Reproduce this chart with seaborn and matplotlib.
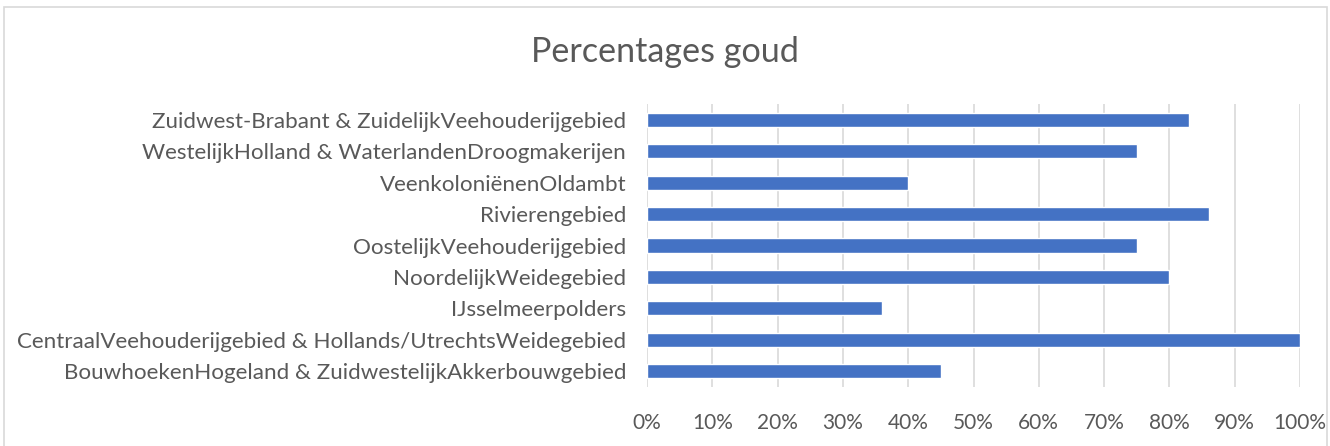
import matplotlib
matplotlib.use("Agg")
import matplotlib.pyplot as plt
import seaborn as sns
import pandas as pd
from matplotlib.patches import Rectangle
from matplotlib.ticker import FuncFormatter

categories = [
    "Zuidwest-Brabant & ZuidelijkVeehouderijgebied",
    "WestelijkHolland & WaterlandenDroogmakerijen",
    "VeenkoloniënenOldambt",
    "Rivierengebied",
    "OostelijkVeehouderijgebied",
    "NoordelijkWeidegebied",
    "IJsselmeerpolders",
    "CentraalVeehouderijgebied & Hollands/UtrechtsWeidegebied",
    "BouwhoekenHogeland & ZuidwestelijkAkkerbouwgebied",
]
values = [0.83, 0.75, 0.40, 0.86, 0.75, 0.80, 0.36, 1.00, 0.45]
title = "Percentages goud"

df = pd.DataFrame({"cat": categories, "val": values})

sns.set_theme(style="white")
plt.rcParams["font.family"] = ["Lato", "DejaVu Sans"]

txt = "#595959"
fig = plt.figure(figsize=(13.3, 4.46), dpi=100)
ax = fig.add_axes([647/1330, 1-387/446, 653/1330, 283/446])
sns.barplot(data=df, y="cat", x="val", orient="h", color="#4472C4",
            saturation=1, width=0.45, ax=ax, order=categories)
ax.set_xlim(0, 1)
ax.set_xticks([i/10 for i in range(11)])
ax.xaxis.set_major_formatter(FuncFormatter(lambda v, p: f"{round(v*100)}%"))
ax.grid(axis="x", color="#D9D9D9", linewidth=1.2)
ax.set_axisbelow(True)
for s in ax.spines.values():
    s.set_visible(False)
ax.set_xlabel("")
ax.set_ylabel("")
ax.tick_params(axis="x", length=0, pad=19, labelsize=15, labelcolor=txt)
ax.tick_params(axis="y", length=0, pad=15, labelsize=16.1, labelcolor=txt)
fig.text(0.5, 1-52/446, title, ha="center", va="center", fontsize=24.6, color=txt)
fig.patches.append(Rectangle((4/1330, -0.05), 1323/1330, 1.05-7/446,
                             transform=fig.transFigure, fill=False,
                             edgecolor="#D9D9D9", linewidth=1.2))
fig.savefig("out.png", dpi=100, facecolor="white")
